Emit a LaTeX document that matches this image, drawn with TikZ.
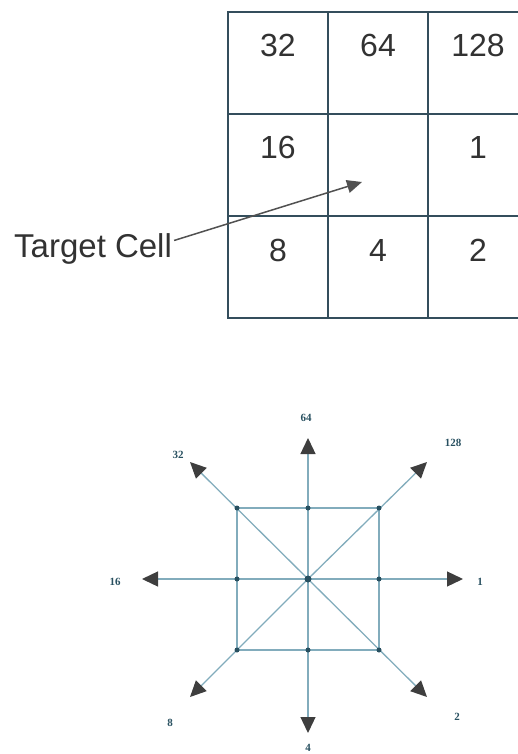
\documentclass[tikz,border=0pt]{standalone}
\usepackage{fontspec}
\setmainfont{Liberation Sans}
\newfontfamily\dirfont{Liberation Serif}
\usetikzlibrary{arrows.meta, positioning}
\definecolor{gridSlate}{RGB}{52,78,92}
\definecolor{rayTeal}{RGB}{130,172,188}
\definecolor{tipGray}{RGB}{62,62,62}
\definecolor{dotTeal}{RGB}{40,80,96}
\definecolor{darkText}{RGB}{50,50,50}
\tikzset{
    cellbox/.style={
        rectangle,
        draw=gridSlate,
        line width=1.6pt,
        outer sep=0pt,
        inner sep=0pt,
        minimum width=100pt,
        minimum height=102pt,
        text=darkText,
        text height=23pt,
        text depth=35pt,
        font=\fontsize{32}{36}\selectfont
    },
    tag/.style={font=\fontsize{33}{36}\selectfont, inner sep=2pt, text=darkText},
    pointer/.style={-{Triangle[length=15pt, width=13pt]}, line width=1.5pt, draw=tipGray!90},
    ray/.style={-{Triangle[length=16pt, width=15pt, color=tipGray]}, line width=1.3pt, draw=rayTeal},
    edge/.style={line width=1.3pt, draw=rayTeal},
    joint/.style={circle, fill=dotTeal, inner sep=0pt, minimum size=5pt},
    dirlabel/.style={font=\dirfont\bfseries\fontsize{11}{12}\selectfont, text=dotTeal, inner sep=0pt}
}

\begin{document}
\begin{tikzpicture}[x=1pt, y=-1pt, node distance=0pt]
        \useasboundingbox (0,0) rectangle (518,754);

        % neighbourhood grid
        \node[cellbox] (c32) at (278,63) {32};
        \node[cellbox, right=of c32] (c64) {64};
        \node[cellbox, right=of c64] (c128) {128};
        \node[cellbox, below=of c32] (c16) {16};
        \node[cellbox, right=of c16] (ct) {};
        \node[cellbox, right=of ct] (c1) {1};
        \node[cellbox, below=of c16] (c8) {8};
        \node[cellbox, right=of c8] (c4) {4};
        \node[cellbox, right=of c4] (c2) {2};

        \node[tag, anchor=base west] (tc) at (12,257) {Target Cell};
        \coordinate (aim) at (362,182);
        \draw[pointer] ([yshift=8pt]tc.east) -- (aim);

        % direction star
        \coordinate (hub) at (308,579);
        \coordinate (sqNW) at (237,508);
        \coordinate (sqN) at (308,508);
        \coordinate (sqNE) at (379,508);
        \coordinate (sqE) at (379,579);
        \coordinate (sqSE) at (379,650);
        \coordinate (sqS) at (308,650);
        \coordinate (sqSW) at (237,650);
        \coordinate (sqW) at (237,579);

        \coordinate (tN) at (308,438);
        \coordinate (tNE) at (427,462);
        \coordinate (tE) at (463,579);
        \coordinate (tSE) at (427,697);
        \coordinate (tS) at (308,733);
        \coordinate (tSW) at (190,697);
        \coordinate (tW) at (142,579);
        \coordinate (tNW) at (190,462);

        \draw[edge] (sqNW) -- (sqNE) -- (sqSE) -- (sqSW) -- cycle;
        \draw[ray] (hub) -- (tN);
        \draw[ray] (hub) -- (tNE);
        \draw[ray] (hub) -- (tE);
        \draw[ray] (hub) -- (tSE);
        \draw[ray] (hub) -- (tS);
        \draw[ray] (hub) -- (tSW);
        \draw[ray] (hub) -- (tW);
        \draw[ray] (hub) -- (tNW);

        \node[joint, minimum size=7pt] (dHub) at (hub) {};
        \node[joint] (dNW) at (sqNW) {};
        \node[joint] (dN) at (sqN) {};
        \node[joint] (dNE) at (sqNE) {};
        \node[joint] (dE) at (sqE) {};
        \node[joint] (dSE) at (sqSE) {};
        \node[joint] (dS) at (sqS) {};
        \node[joint] (dSW) at (sqSW) {};
        \node[joint] (dW) at (sqW) {};

        \node[dirlabel] (l64) at (306,418) {64};
        \node[dirlabel] (l128) at (453,443) {128};
        \node[dirlabel] (l32) at (178,455) {32};
        \node[dirlabel] (l16) at (115,582) {16};
        \node[dirlabel] (l1) at (480,582) {1};
        \node[dirlabel] (l2) at (457,717) {2};
        \node[dirlabel] (l4) at (308,748) {4};
        \node[dirlabel] (l8) at (170,723) {8};
    \end{tikzpicture}
\end{document}
